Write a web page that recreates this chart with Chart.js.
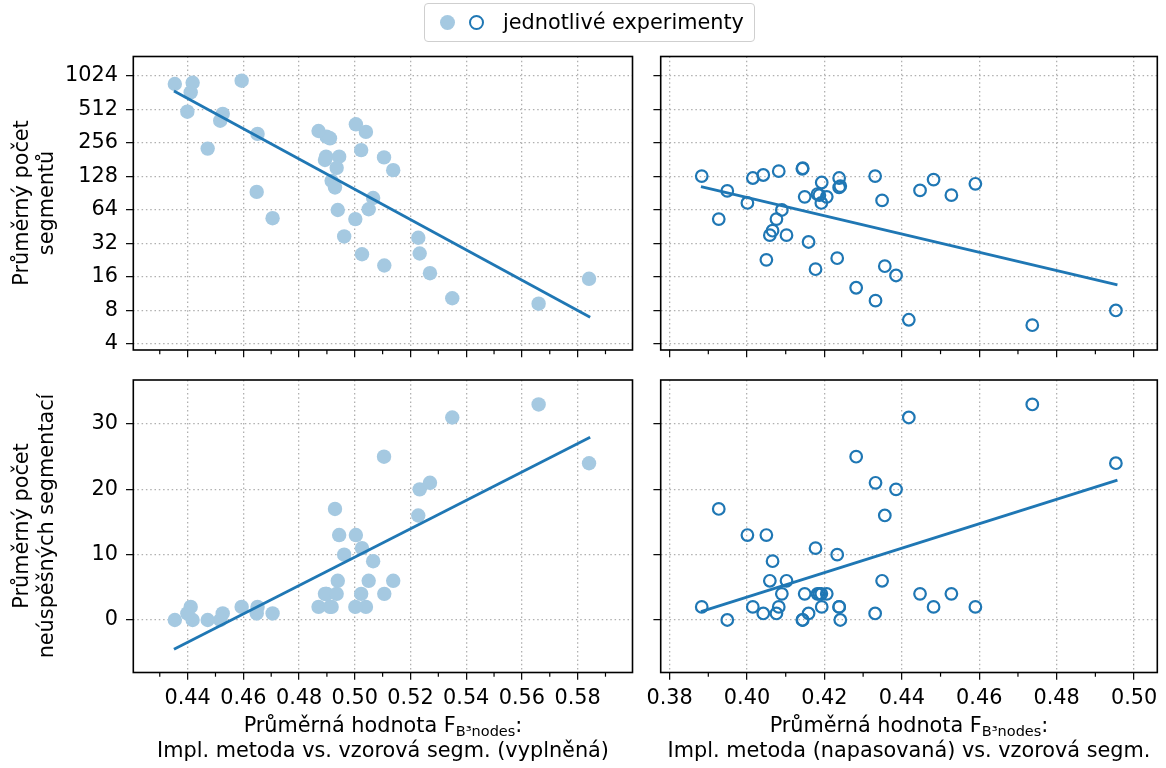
<!DOCTYPE html>
<html>
<head>
<meta charset="utf-8">
<script src="https://cdn.jsdelivr.net/npm/chart.js@4.4.1/dist/chart.umd.min.js"></script>
<style>
  body { margin: 0; background: #fff; font-family: 'DejaVu Sans', sans-serif; color: #000; }
  #wrap { position: relative; width: 1166px; height: 768px; overflow: hidden; }
  canvas { position: absolute; left: 0; top: 0; }
  .ytitle { position: absolute; width: 300px; height: 50px; line-height: 25px; font-size: 20.8px;
            text-align: center; transform: rotate(-90deg); white-space: nowrap; }
  .xtitle { position: absolute; width: 560px; line-height: 25px; font-size: 20.8px; text-align: center; white-space: nowrap; }
  .xtitle sub { font-size: 14.5px; line-height: 0; vertical-align: -4px; }
  #legend { position: absolute; left: 424px; top: 3px; width: 331px; height: 39px; border: 1px solid #cfcfcf;
            border-radius: 4px; box-sizing: border-box; }
  .dot { position: absolute; top: 11px; width: 15px; height: 15px; border-radius: 50%; box-sizing: border-box; }
  #legend span { position: absolute; left: 78px; top: 6px; font-size: 20.8px; line-height: 25px; white-space: nowrap; }
</style>
</head>
<body>
<div id="wrap">
  <canvas id="tl" width="1166" height="768"></canvas>
  <canvas id="tr" width="1166" height="768"></canvas>
  <canvas id="bl" width="1166" height="768"></canvas>
  <canvas id="br" width="1166" height="768"></canvas>

  <div id="legend">
    <div class="dot" style="left:15px; background:#a5c9e1;"></div>
    <div class="dot" style="left:44px; border:2.2px solid #1f77b4;"></div>
    <span>jednotlivé experimenty</span>
  </div>

  <div class="ytitle" style="left:-116px; top:178px;">Průměrný počet<br>segmentů</div>
  <div class="ytitle" style="left:-116px; top:501px;">Průměrný počet<br>neúspěšných segmentací</div>

  <div class="xtitle" style="left:103px; top:713px;">Průměrná hodnota F<sub>B³nodes</sub>:<br>Impl. metoda vs. vzorová segm. (vyplněná)</div>
  <div class="xtitle" style="left:629px; top:713px;">Průměrná hodnota F<sub>B³nodes</sub>:<br>Impl. metoda (napasovaná) vs. vzorová segm.</div>
</div>

<script>
// levá strana: vyplněná segmentace
const leftX = [0.4354, 0.4418, 0.4411, 0.4594, 0.4399, 0.4526, 0.4517, 0.4651, 0.4472, 0.4870,
               0.4899, 0.4911, 0.5004, 0.5040, 0.5023, 0.5105, 0.5138, 0.4897, 0.4944, 0.4893,
               0.4935, 0.4917, 0.4929, 0.4648, 0.4705, 0.5066, 0.5050, 0.4939, 0.5002, 0.4962,
               0.5228, 0.5233, 0.5026, 0.5106, 0.5270, 0.5350, 0.5660, 0.5841];
const leftSeg = [868, 891, 730, 929, 489, 468, 406, 309, 228, 328,
                 292, 282, 377, 322, 221, 190, 146, 193, 193, 180,
                 153, 117, 102, 93, 54, 82, 65, 64, 53, 37,
                 36, 26, 25.6, 20.3, 17.3, 10.3, 9.2, 15.4];
const leftFail = [0, 0, 2, 2, 1, 1, 0, 2, 0, 2,
                  4, 2, 13, 2, 4, 25, 6, 4, 13, 4,
                  4, 2, 17, 1, 1, 9, 6, 6, 2, 10,
                  16, 20, 11, 4, 21, 31, 33, 24];

// pravá strana: napasovaná segmentace
const rightX = [0.3883, 0.3949, 0.3927, 0.4001, 0.4015, 0.4042, 0.4082, 0.4090, 0.4076, 0.4066,
                0.4059, 0.4102, 0.4050, 0.4144, 0.4143, 0.4149, 0.4159, 0.4177, 0.4193, 0.4182,
                0.4206, 0.4192, 0.4187, 0.4238, 0.4238, 0.4241, 0.4233, 0.4282, 0.4331, 0.4349,
                0.4332, 0.4356, 0.4385, 0.4418, 0.4447, 0.4482, 0.4528, 0.4590, 0.4737, 0.4953];
const rightSeg = [129, 95, 53, 74, 124, 132, 143, 64, 53, 41.7,
                  38, 38, 22.8, 152, 150, 84, 33, 18.8, 113, 89,
                  84, 74, 87, 124, 102, 105, 23.6, 12.8, 129, 78,
                  9.8, 20, 16.5, 6.6, 96, 120, 87, 110, 5.9, 8.0];
const rightFail = [2, 0, 17, 13, 2, 1, 2, 4, 1, 9,
                   6, 6, 13, 0, 0, 4, 1, 11, 2, 4,
                   4, 4, 4, 2, 2, 0, 10, 25, 1, 6,
                   21, 16, 20, 31, 4, 2, 4, 2, 33, 24];

// regresní přímky (koncové body)
const fitLeftX = [0.4351, 0.5845];
const fitLeftSeg = [750, 6.96];
const fitLeftFail = [-4.49, 27.98];
const fitRightX = [0.3881, 0.4957];
const fitRightSeg = [104, 13.6];
const fitRightFail = [1.27, 21.4];

const xTicksLeft = [0.44, 0.46, 0.48, 0.50, 0.52, 0.54, 0.56, 0.58];
const xTicksRight = [0.38, 0.40, 0.42, 0.44, 0.46, 0.48, 0.50];
const yTicksSeg = [4, 8, 16, 32, 64, 128, 256, 512, 1024];
const yTicksFail = [0, 10, 20, 30];

Chart.defaults.font.family = 'DejaVu Sans';
Chart.defaults.color = '#000';

const C0 = '#1f77b4';
const LIGHT = '#a5c9e1';
const FONT = { family: 'DejaVu Sans', size: 20.8 };

// ramecek a vedlejsi ticky na ose x
const frameAndMinor = {
  id: 'frameAndMinor',
  afterDraw(chart) {
    const { ctx, chartArea: a, scales: { x } } = chart;
    const majors = x.ticks.map(t => t.value);
    const half = (majors[1] - majors[0]) / 2;
    const minors = majors.map(v => v - half).concat([majors[majors.length - 1] + half]);
    ctx.save();
    ctx.strokeStyle = '#000';
    ctx.lineWidth = 1.2;
    minors.filter(v => v >= x.min && v <= x.max).forEach(v => {
      const px = x.getPixelForValue(v);
      ctx.beginPath();
      ctx.moveTo(px, a.bottom);
      ctx.lineTo(px, a.bottom + 4.2);
      ctx.stroke();
    });
    ctx.lineWidth = 1.6;
    ctx.strokeRect(a.left, a.top, a.right - a.left, a.bottom - a.top);
    ctx.restore();
  }
};

function grid() {
  return { color: '#b0b0b0', lineWidth: 1.3, tickLength: 7.3, tickColor: '#000', tickWidth: 1.2, tickBorderDash: [] };
}

function makeChart(id, p) {
  const wy = p.yLabels ? 90 : 10;
  const hx = p.xLabels ? 40 : 10;
  const pts = p.xs.map((x, i) => ({ x: x, y: p.ys[i] }));
  const fit = p.fitX.map((x, i) => ({ x: x, y: p.fitY[i] }));
  return new Chart(document.getElementById(id), {
    type: 'scatter',
    data: {
      datasets: [{
        data: fit,
        showLine: true,
        pointRadius: 0,
        borderColor: C0,
        borderWidth: 2.8,
        order: 0
      }, {
        data: pts,
        pointRadius: p.filled ? 7.2 : 5.8,
        backgroundColor: p.filled ? LIGHT : 'rgba(0,0,0,0)',
        borderColor: p.filled ? LIGHT : C0,
        borderWidth: p.filled ? 0 : 2.2,
        order: 1
      }]
    },
    options: {
      responsive: false,
      animation: false,
      events: [],
      layout: {
        autoPadding: false,
        padding: { left: p.area[0] - wy, top: p.area[1], right: 1166 - p.area[2], bottom: 768 - p.area[3] - hx }
      },
      plugins: { legend: { display: false }, tooltip: { enabled: false } },
      scales: {
        x: {
          type: 'linear',
          min: p.xMin, max: p.xMax,
          afterBuildTicks: s => { s.ticks = p.xTicks.map(v => ({ value: v })); },
          afterFit: s => { s.height = hx; },
          ticks: { display: p.xLabels, autoSkip: false, maxRotation: 0, padding: 6, font: FONT,
                   callback: v => v.toFixed(2) },
          grid: grid(),
          border: { display: false, dash: [1.5, 2.8] }
        },
        y: {
          type: p.yLog ? 'logarithmic' : 'linear',
          min: p.yMin, max: p.yMax,
          afterBuildTicks: s => { s.ticks = p.yTicks.map(v => ({ value: v })); },
          afterFit: s => { s.width = wy; },
          ticks: { display: p.yLabels, autoSkip: false, padding: 8, font: FONT,
                   callback: v => String(v) },
          grid: grid(),
          border: { display: false, dash: [1.5, 2.8] }
        }
      }
    },
    plugins: [frameAndMinor]
  });
}

const L = { xMin: 0.4205, xMax: 0.5997, xTicks: xTicksLeft };
const R = { xMin: 0.3777, xMax: 0.5060, xTicks: xTicksRight };
const TOP = { yLog: true, yMin: 3.53, yMax: 1533, yTicks: yTicksSeg };
const BOT = { yLog: false, yMin: -8.04, yMax: 36.74, yTicks: yTicksFail };

makeChart('tl', Object.assign({}, L, TOP, { area: [133.3, 56.5, 632.5, 350], xs: leftX, ys: leftSeg,
  fitX: fitLeftX, fitY: fitLeftSeg, filled: true, xLabels: false, yLabels: true }));
makeChart('tr', Object.assign({}, R, TOP, { area: [660.7, 56.5, 1157.3, 350], xs: rightX, ys: rightSeg,
  fitX: fitRightX, fitY: fitRightSeg, filled: false, xLabels: false, yLabels: false }));
makeChart('bl', Object.assign({}, L, BOT, { area: [133.3, 380, 632.5, 672.5], xs: leftX, ys: leftFail,
  fitX: fitLeftX, fitY: fitLeftFail, filled: true, xLabels: true, yLabels: true }));
makeChart('br', Object.assign({}, R, BOT, { area: [660.7, 380, 1157.3, 672.5], xs: rightX, ys: rightFail,
  fitX: fitRightX, fitY: fitRightFail, filled: false, xLabels: true, yLabels: false }));
</script>
</body>
</html>
